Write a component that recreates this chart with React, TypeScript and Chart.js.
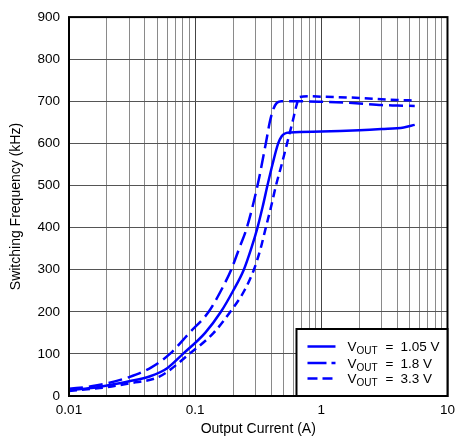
import { useEffect, useRef } from "react";
import { Chart, registerables } from "chart.js";

Chart.register(...registerables);

// ---- Data ----
const seriesLabels = ["1.05 V", "1.8 V", "3.3 V"];

const current105 = [0.01, 0.015, 0.02, 0.03, 0.044, 0.06, 0.08, 0.12, 0.16, 0.2, 0.243, 0.278, 0.312, 0.343, 0.374, 0.41, 0.455, 0.485, 0.51, 0.57, 1, 2, 3, 4.5, 5.5];
const freq105 = [14, 19, 25, 35, 47, 66, 100, 150, 200, 250, 300, 350, 400, 450, 500, 550, 600, 617, 623, 626, 628, 631, 634, 638, 644];

const current18 = [0.01, 0.015, 0.02, 0.03, 0.045, 0.063, 0.09, 0.128, 0.16, 0.193, 0.223, 0.257, 0.312, 0.363, 0.39, 0.415, 0.44, 0.48, 0.7, 1, 1.5, 2, 3, 4, 5.5];
const freq18 = [17, 23, 30, 45, 68, 100, 150, 200, 250, 300, 350, 400, 500, 600, 650, 680, 695, 700, 700, 699, 697, 695, 691, 690, 689];

const current33 = [0.01, 0.015, 0.02, 0.03, 0.052, 0.09, 0.14, 0.19, 0.245, 0.292, 0.33, 0.363, 0.4, 0.437, 0.485, 0.535, 0.59, 0.635, 0.67, 0.8, 1, 2, 3, 4, 5.5];
const freq33 = [12, 17, 21, 30, 46, 100, 150, 200, 250, 300, 350, 400, 450, 500, 550, 600, 650, 690, 710, 712, 711, 708, 705, 703, 702];

const xMajorTicks = [0.01, 0.1, 1, 10];
const xTickLabels = ["0.01", "0.1", "1", "10"];
const yMin = 0;
const yMax = 900;
const yStep = 100;

const xTitle = "Output Current (A)";
const yTitle = "Switching Frequency (kHz)";

// grid values: 1..9 per decade
const xGridValues: number[] = [];
for (let e = -2; e <= 0; e++) {
  for (let m = 1; m <= 9; m++) xGridValues.push(Number((m * Math.pow(10, e)).toPrecision(3)));
}
xGridValues.push(10);

const FONT = "'Liberation Sans', Arial, Helvetica, sans-serif";
const BLUE = "#0000ff";

const lineDashes = [[], [14, 6], [8, 5]];
const legendDashes = [[], [19, 5], [10, 5]];

const toPoints = (xs: number[], ys: number[]) => xs.map((x, i) => ({ x, y: ys[i] }));

const framePlugin = {
  id: "frame",
  afterDatasetsDraw(chart: any) {
    const { ctx, chartArea: a } = chart;
    ctx.save();
    ctx.strokeStyle = "#000";
    ctx.lineWidth = 2;
    ctx.setLineDash([]);
    ctx.strokeRect(a.left, a.top, a.right - a.left, a.bottom - a.top);
    ctx.restore();
  },
};

const legendPlugin = {
  id: "boxLegend",
  afterDraw(chart: any) {
    const { ctx, chartArea: a } = chart;
    const w = 151;
    const h = 67;
    const left = a.right - w;
    const top = a.bottom - h;
    ctx.save();
    ctx.fillStyle = "#fff";
    ctx.fillRect(left, top, w, h);
    ctx.strokeStyle = "#000";
    ctx.lineWidth = 2;
    ctx.strokeRect(left, top, w, h);
    const rowCenters = [17.5, 34, 49.5];
    seriesLabels.forEach((lab, i) => {
      const cy = top + rowCenters[i];
      ctx.beginPath();
      ctx.strokeStyle = BLUE;
      ctx.lineWidth = 2.5;
      ctx.setLineDash(legendDashes[i]);
      ctx.moveTo(left + 11, cy);
      ctx.lineTo(left + 39, cy);
      ctx.stroke();
      ctx.setLineDash([]);
      ctx.fillStyle = "#000";
      ctx.textBaseline = "alphabetic";
      ctx.textAlign = "left";
      const base = cy + 4.8;
      ctx.font = `13.5px ${FONT}`;
      ctx.fillText("V", left + 51, base);
      ctx.font = `10px ${FONT}`;
      ctx.fillText("OUT", left + 60, base + 3);
      ctx.font = `13.5px ${FONT}`;
      ctx.fillText("=", left + 89, base);
      ctx.fillText(lab, left + 104, base);
    });
    ctx.restore();
  },
};

export default function App() {
  const ref = useRef<HTMLCanvasElement | null>(null);

  useEffect(() => {
    document.body.style.margin = "0";
    if (!ref.current) return;
    const chart = new Chart(ref.current, {
      type: "line",
      data: {
        datasets: [
          { label: seriesLabels[0], data: toPoints(current105, freq105) },
          { label: seriesLabels[1], data: toPoints(current18, freq18) },
          { label: seriesLabels[2], data: toPoints(current33, freq33) },
        ].map((d, i) => ({
          ...d,
          borderColor: BLUE,
          backgroundColor: BLUE,
          borderWidth: 2.5,
          borderDash: lineDashes[i],
          pointRadius: 0,
          fill: false,
          cubicInterpolationMode: "monotone" as const,
        })),
      },
      options: {
        responsive: false,
        animation: false,
        devicePixelRatio: 1,
        layout: { padding: { left: 0, right: 12, top: 17, bottom: 0 } },
        plugins: {
          legend: { display: false },
          tooltip: { enabled: false },
        },
        scales: {
          x: {
            type: "logarithmic",
            min: 0.01,
            max: 10,
            border: { display: false },
            grid: {
              drawTicks: false,
              lineWidth: 1,
              color: (c: any) =>
                c.tick && xMajorTicks.some((t) => Math.abs(t - c.tick.value) / t < 1e-6) ? "#444" : "#8a8a8a",
            },
            afterBuildTicks: (scale: any) => {
              scale.ticks = xGridValues.map((v) => ({ value: v }));
            },
            afterFit: (scale: any) => {
              scale.height = 43;
            },
            ticks: {
              autoSkip: false,
              maxRotation: 0,
              padding: 6,
              color: "#000",
              font: { family: FONT, size: 13.5 },
              callback: (value: any) => {
                const v = Number(value);
                const i = xMajorTicks.findIndex((t) => Math.abs(t - v) / t < 1e-6);
                return i >= 0 ? xTickLabels[i] : "";
              },
            },
            title: {
              display: true,
              text: xTitle,
              color: "#000",
              font: { family: FONT, size: 14 },
              padding: { top: 0, bottom: 1 },
            },
          },
          y: {
            type: "linear",
            min: yMin,
            max: yMax,
            border: { display: false },
            grid: { drawTicks: false, lineWidth: 1, color: "#555" },
            afterFit: (scale: any) => {
              scale.width = 69;
            },
            ticks: {
              stepSize: yStep,
              padding: 9,
              color: "#000",
              font: { family: FONT, size: 13.5 },
            },
            title: {
              display: true,
              text: yTitle,
              color: "#000",
              font: { family: FONT, size: 14 },
              padding: { top: 8, bottom: 0 },
            },
          },
        },
      },
      plugins: [framePlugin, legendPlugin],
    });
    return () => chart.destroy();
  }, []);

  return (
    <div style={{ width: 461, height: 439 }}>
      <canvas ref={ref} width={461} height={439} />
    </div>
  );
}
